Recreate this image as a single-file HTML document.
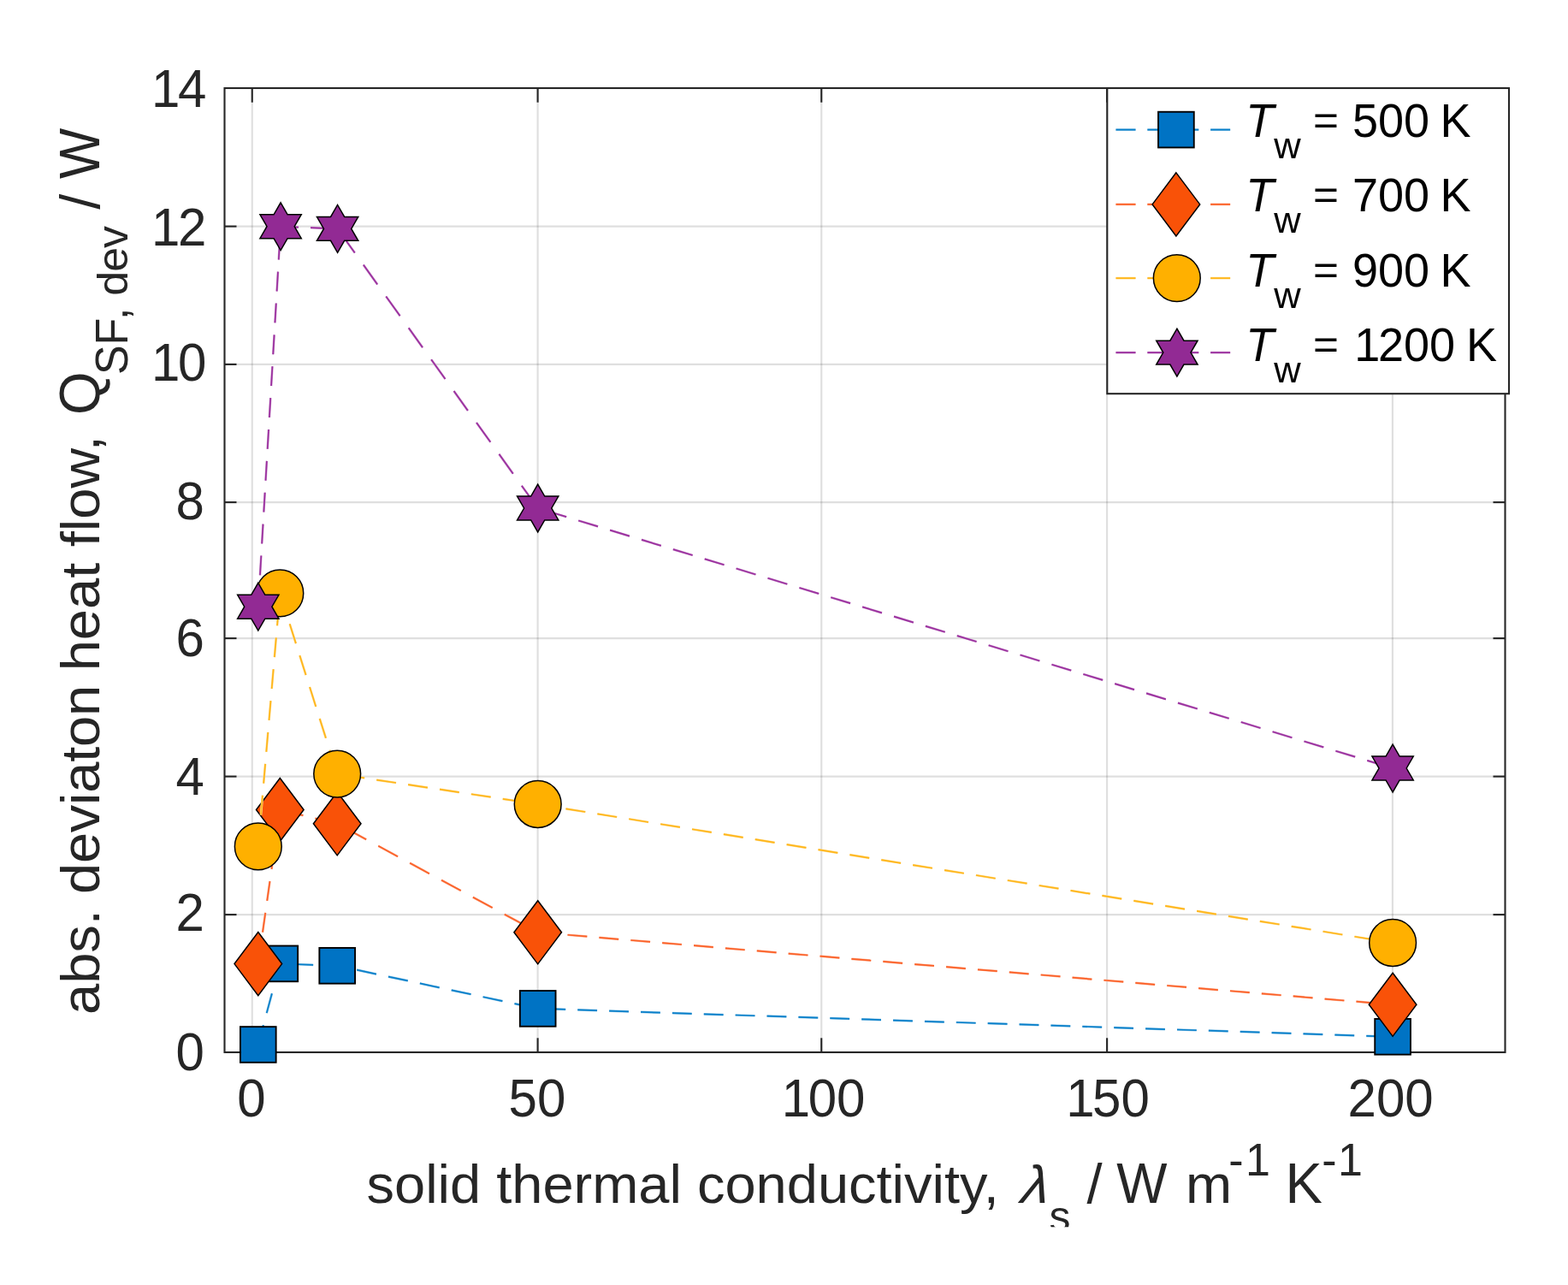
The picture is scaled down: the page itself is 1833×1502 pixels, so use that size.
<!DOCTYPE html>
<html lang="en">
<head>
<meta charset="utf-8">
<title>abs. deviation heat flow vs solid thermal conductivity</title>
<style>
html,body{margin:0;padding:0;background:#ffffff;}
body{width:1833px;height:1502px;overflow:hidden;}
svg{display:block;}
</style>
</head>
<body>
<svg width="1833" height="1502" viewBox="0 0 1833 1502" role="img" aria-label="abs. deviaton heat flow versus solid thermal conductivity for four wall temperatures">
<rect width="1833" height="1502" fill="#ffffff"/>
<g stroke="#262626" stroke-opacity="0.15" stroke-width="2.1" fill="none">
<line x1="294.75" y1="103.0" x2="294.75" y2="1230.0"/>
<line x1="628.6" y1="103.0" x2="628.6" y2="1230.0"/>
<line x1="960.25" y1="103.0" x2="960.25" y2="1230.0"/>
<line x1="1294.1" y1="103.0" x2="1294.1" y2="1230.0"/>
<line x1="1627.9" y1="103.0" x2="1627.9" y2="1230.0"/>
<line x1="262.5" y1="264.60" x2="1759.5" y2="264.60"/>
<line x1="262.5" y1="425.90" x2="1759.5" y2="425.90"/>
<line x1="262.5" y1="587.10" x2="1759.5" y2="587.10"/>
<line x1="262.5" y1="746.10" x2="1759.5" y2="746.10"/>
<line x1="262.5" y1="907.60" x2="1759.5" y2="907.60"/>
<line x1="262.5" y1="1069.10" x2="1759.5" y2="1069.10"/>
</g>
<g stroke="#262626" stroke-width="2.1" fill="none" stroke-linecap="butt">
<rect x="262.5" y="103.0" width="1497.0" height="1127.0"/>
<line x1="294.75" y1="1230.0" x2="294.75" y2="1213.3"/>
<line x1="294.75" y1="103.0" x2="294.75" y2="119.7"/>
<line x1="628.6" y1="1230.0" x2="628.6" y2="1213.3"/>
<line x1="628.6" y1="103.0" x2="628.6" y2="119.7"/>
<line x1="960.25" y1="1230.0" x2="960.25" y2="1213.3"/>
<line x1="960.25" y1="103.0" x2="960.25" y2="119.7"/>
<line x1="1294.1" y1="1230.0" x2="1294.1" y2="1213.3"/>
<line x1="1294.1" y1="103.0" x2="1294.1" y2="119.7"/>
<line x1="1627.9" y1="1230.0" x2="1627.9" y2="1213.3"/>
<line x1="1627.9" y1="103.0" x2="1627.9" y2="119.7"/>
<line x1="262.5" y1="264.60" x2="276.5" y2="264.60"/>
<line x1="1759.5" y1="264.60" x2="1745.5" y2="264.60"/>
<line x1="262.5" y1="425.90" x2="276.5" y2="425.90"/>
<line x1="1759.5" y1="425.90" x2="1745.5" y2="425.90"/>
<line x1="262.5" y1="587.10" x2="276.5" y2="587.10"/>
<line x1="1759.5" y1="587.10" x2="1745.5" y2="587.10"/>
<line x1="262.5" y1="746.10" x2="276.5" y2="746.10"/>
<line x1="1759.5" y1="746.10" x2="1745.5" y2="746.10"/>
<line x1="262.5" y1="907.60" x2="276.5" y2="907.60"/>
<line x1="1759.5" y1="907.60" x2="1745.5" y2="907.60"/>
<line x1="262.5" y1="1069.10" x2="276.5" y2="1069.10"/>
<line x1="1759.5" y1="1069.10" x2="1745.5" y2="1069.10"/>
</g>
<g font-family="'Liberation Sans', sans-serif" font-size="60" fill="#262626">
<text transform="translate(294.0,1304.6) scale(1,1.042)" text-anchor="middle">0</text>
<text transform="translate(627.9,1304.6) scale(1,1.042)" text-anchor="middle">50</text>
<text transform="translate(960.2,1304.6) scale(1,1.042)" text-anchor="middle" dx="2.4 -2.4">100</text>
<text transform="translate(1292.6,1304.6) scale(1,1.042)" text-anchor="middle" dx="2.4 -2.4">150</text>
<text transform="translate(1625.6,1304.6) scale(1,1.042)" text-anchor="middle">200</text>
<text transform="translate(238.9,124.6) scale(1,1.042)" text-anchor="end" dx="2.4 -2.4">14</text>
<text transform="translate(238.9,286.6) scale(1,1.042)" text-anchor="end" dx="2.4 -2.4">12</text>
<text transform="translate(238.9,445.0) scale(1,1.042)" text-anchor="end" dx="2.4 -2.4">10</text>
<text transform="translate(238.9,606.9) scale(1,1.042)" text-anchor="end">8</text>
<text transform="translate(238.9,767.2) scale(1,1.042)" text-anchor="end">6</text>
<text transform="translate(238.9,928.6) scale(1,1.042)" text-anchor="end">4</text>
<text transform="translate(238.9,1087.9) scale(1,1.042)" text-anchor="end">2</text>
<text transform="translate(238.9,1250.9) scale(1,1.042)" text-anchor="end">0</text>
</g>
<path d="M301.80,1221.00 L327.30,1126.40" fill="none" stroke-dasharray="23.61 14.58" stroke-dashoffset="0.00" stroke="#91c6e7" stroke-width="2.7"/>
<path d="M327.30,1126.40 L394.20,1128.80" fill="none" stroke-dasharray="22.81 14.09" stroke-dashoffset="20.85" stroke="#91c6e7" stroke-width="2.7"/>
<path d="M394.20,1128.80 L628.70,1178.90" fill="none" stroke-dasharray="23.31 14.40" stroke-dashoffset="14.30" stroke="#91c6e7" stroke-width="2.7"/>
<path d="M628.70,1178.90 L1628.10,1211.80" fill="none" stroke-dasharray="22.81 14.09" stroke-dashoffset="27.21" stroke="#91c6e7" stroke-width="2.7"/>
<path d="M301.80,1221.00 L327.30,1126.40" fill="none" stroke-dasharray="23.61 14.58" stroke-dashoffset="0.00" stroke="#0a80ca" stroke-width="1.7"/>
<path d="M327.30,1126.40 L394.20,1128.80" fill="none" stroke-dasharray="22.81 14.09" stroke-dashoffset="20.85" stroke="#0a80ca" stroke-width="1.7"/>
<path d="M394.20,1128.80 L628.70,1178.90" fill="none" stroke-dasharray="23.31 14.40" stroke-dashoffset="14.30" stroke="#0a80ca" stroke-width="1.7"/>
<path d="M628.70,1178.90 L1628.10,1211.80" fill="none" stroke-dasharray="22.81 14.09" stroke-dashoffset="27.21" stroke="#0a80ca" stroke-width="1.7"/>
<rect x="280.95" y="1200.15" width="41.70" height="41.70" fill="#0073C4" stroke="#000000" stroke-width="1.9"/>
<rect x="306.45" y="1105.55" width="41.70" height="41.70" fill="#0073C4" stroke="#000000" stroke-width="1.9"/>
<rect x="373.35" y="1107.95" width="41.70" height="41.70" fill="#0073C4" stroke="#000000" stroke-width="1.9"/>
<rect x="607.85" y="1158.05" width="41.70" height="41.70" fill="#0073C4" stroke="#000000" stroke-width="1.9"/>
<rect x="1607.25" y="1190.95" width="41.70" height="41.70" fill="#0073C4" stroke="#000000" stroke-width="1.9"/>
<path d="M301.80,1126.60 L327.30,946.50" fill="none" stroke-dasharray="23.03 14.22" stroke-dashoffset="0.00" stroke="#fdb89e" stroke-width="2.7"/>
<path d="M327.30,946.50 L394.20,962.80" fill="none" stroke-dasharray="23.47 14.49" stroke-dashoffset="33.53" stroke="#fdb89e" stroke-width="2.7"/>
<path d="M394.20,962.80 L628.70,1089.80" fill="none" stroke-dasharray="25.93 16.01" stroke-dashoffset="29.25" stroke="#fdb89e" stroke-width="2.7"/>
<path d="M628.70,1089.80 L1628.10,1174.30" fill="none" stroke-dasharray="22.88 14.13" stroke-dashoffset="2.07" stroke="#fdb89e" stroke-width="2.7"/>
<path d="M301.80,1126.60 L327.30,946.50" fill="none" stroke-dasharray="23.03 14.22" stroke-dashoffset="0.00" stroke="#fb6128" stroke-width="1.7"/>
<path d="M327.30,946.50 L394.20,962.80" fill="none" stroke-dasharray="23.47 14.49" stroke-dashoffset="33.53" stroke="#fb6128" stroke-width="1.7"/>
<path d="M394.20,962.80 L628.70,1089.80" fill="none" stroke-dasharray="25.93 16.01" stroke-dashoffset="29.25" stroke="#fb6128" stroke-width="1.7"/>
<path d="M628.70,1089.80 L1628.10,1174.30" fill="none" stroke-dasharray="22.88 14.13" stroke-dashoffset="2.07" stroke="#fb6128" stroke-width="1.7"/>
<polygon points="301.80,1089.53 329.60,1126.60 301.80,1163.67 274.00,1126.60" fill="#F95208" stroke="#000000" stroke-width="1.5" stroke-linejoin="miter"/>
<polygon points="327.30,909.43 355.10,946.50 327.30,983.57 299.50,946.50" fill="#F95208" stroke="#000000" stroke-width="1.5" stroke-linejoin="miter"/>
<polygon points="394.20,925.73 422.00,962.80 394.20,999.87 366.40,962.80" fill="#F95208" stroke="#000000" stroke-width="1.5" stroke-linejoin="miter"/>
<polygon points="628.70,1052.73 656.50,1089.80 628.70,1126.87 600.90,1089.80" fill="#F95208" stroke="#000000" stroke-width="1.5" stroke-linejoin="miter"/>
<polygon points="1628.10,1137.23 1655.90,1174.30 1628.10,1211.37 1600.30,1174.30" fill="#F95208" stroke="#000000" stroke-width="1.5" stroke-linejoin="miter"/>
<path d="M301.80,989.40 L327.30,693.40" fill="none" stroke-dasharray="22.88 14.13" stroke-dashoffset="0.00" stroke="#ffde98" stroke-width="2.7"/>
<path d="M327.30,693.40 L394.20,904.60" fill="none" stroke-dasharray="23.92 14.77" stroke-dashoffset="1.01" stroke="#ffde98" stroke-width="2.7"/>
<path d="M394.20,904.60 L628.70,940.00" fill="none" stroke-dasharray="23.06 14.24" stroke-dashoffset="28.07" stroke="#ffde98" stroke-width="2.7"/>
<path d="M628.70,940.00 L1628.10,1102.00" fill="none" stroke-dasharray="23.10 14.26" stroke-dashoffset="4.15" stroke="#ffde98" stroke-width="2.7"/>
<path d="M301.80,989.40 L327.30,693.40" fill="none" stroke-dasharray="22.88 14.13" stroke-dashoffset="0.00" stroke="#ffb61a" stroke-width="1.7"/>
<path d="M327.30,693.40 L394.20,904.60" fill="none" stroke-dasharray="23.92 14.77" stroke-dashoffset="1.01" stroke="#ffb61a" stroke-width="1.7"/>
<path d="M394.20,904.60 L628.70,940.00" fill="none" stroke-dasharray="23.06 14.24" stroke-dashoffset="28.07" stroke="#ffb61a" stroke-width="1.7"/>
<path d="M628.70,940.00 L1628.10,1102.00" fill="none" stroke-dasharray="23.10 14.26" stroke-dashoffset="4.15" stroke="#ffb61a" stroke-width="1.7"/>
<circle cx="301.80" cy="989.40" r="27.4" fill="#FFB000" stroke="#000000" stroke-width="1.5"/>
<circle cx="327.30" cy="693.40" r="27.4" fill="#FFB000" stroke="#000000" stroke-width="1.5"/>
<circle cx="394.20" cy="904.60" r="27.4" fill="#FFB000" stroke="#000000" stroke-width="1.5"/>
<circle cx="628.70" cy="940.00" r="27.4" fill="#FFB000" stroke="#000000" stroke-width="1.5"/>
<circle cx="1628.10" cy="1102.00" r="27.4" fill="#FFB000" stroke="#000000" stroke-width="1.5"/>
<path d="M301.80,709.20 L328.10,264.70" fill="none" stroke-dasharray="22.84 14.10" stroke-dashoffset="0.00" stroke="#d2a1d3" stroke-width="2.7"/>
<path d="M328.10,264.70 L394.60,267.40" fill="none" stroke-dasharray="22.82 14.09" stroke-dashoffset="1.94" stroke="#d2a1d3" stroke-width="2.7"/>
<path d="M394.60,267.40 L628.70,594.00" fill="none" stroke-dasharray="28.05 17.32" stroke-dashoffset="38.83" stroke="#d2a1d3" stroke-width="2.7"/>
<path d="M628.70,594.00 L1628.10,898.00" fill="none" stroke-dasharray="23.83 14.72" stroke-dashoffset="27.43" stroke="#d2a1d3" stroke-width="2.7"/>
<path d="M301.80,709.20 L328.10,264.70" fill="none" stroke-dasharray="22.84 14.10" stroke-dashoffset="0.00" stroke="#9a2f9e" stroke-width="1.7"/>
<path d="M328.10,264.70 L394.60,267.40" fill="none" stroke-dasharray="22.82 14.09" stroke-dashoffset="1.94" stroke="#9a2f9e" stroke-width="1.7"/>
<path d="M394.60,267.40 L628.70,594.00" fill="none" stroke-dasharray="28.05 17.32" stroke-dashoffset="38.83" stroke="#9a2f9e" stroke-width="1.7"/>
<path d="M628.70,594.00 L1628.10,898.00" fill="none" stroke-dasharray="23.83 14.72" stroke-dashoffset="27.43" stroke="#9a2f9e" stroke-width="1.7"/>
<polygon points="301.80,681.30 309.85,695.25 325.96,695.25 317.91,709.20 325.96,723.15 309.85,723.15 301.80,737.10 293.75,723.15 277.64,723.15 285.69,709.20 277.64,695.25 293.75,695.25" fill="#922A94" stroke="#000000" stroke-width="1.5" stroke-linejoin="miter" stroke-miterlimit="10"/>
<polygon points="328.10,236.80 336.15,250.75 352.26,250.75 344.21,264.70 352.26,278.65 336.15,278.65 328.10,292.60 320.05,278.65 303.94,278.65 311.99,264.70 303.94,250.75 320.05,250.75" fill="#922A94" stroke="#000000" stroke-width="1.5" stroke-linejoin="miter" stroke-miterlimit="10"/>
<polygon points="394.60,239.50 402.65,253.45 418.76,253.45 410.71,267.40 418.76,281.35 402.65,281.35 394.60,295.30 386.55,281.35 370.44,281.35 378.49,267.40 370.44,253.45 386.55,253.45" fill="#922A94" stroke="#000000" stroke-width="1.5" stroke-linejoin="miter" stroke-miterlimit="10"/>
<polygon points="628.70,566.10 636.75,580.05 652.86,580.05 644.81,594.00 652.86,607.95 636.75,607.95 628.70,621.90 620.65,607.95 604.54,607.95 612.59,594.00 604.54,580.05 620.65,580.05" fill="#922A94" stroke="#000000" stroke-width="1.5" stroke-linejoin="miter" stroke-miterlimit="10"/>
<polygon points="1628.10,870.10 1636.15,884.05 1652.26,884.05 1644.21,898.00 1652.26,911.95 1636.15,911.95 1628.10,925.90 1620.05,911.95 1603.94,911.95 1611.99,898.00 1603.94,884.05 1620.05,884.05" fill="#922A94" stroke="#000000" stroke-width="1.5" stroke-linejoin="miter" stroke-miterlimit="10"/>
<rect x="1294.3" y="103.0" width="469.70000000000005" height="357.2" fill="#ffffff" stroke="#262626" stroke-width="2.1"/>
<g font-family="'Liberation Sans', sans-serif" fill="#000000">
<path d="M1304.5,151.6 L1445.3,151.6" fill="none" stroke="#91c6e7" stroke-width="2.7" stroke-dasharray="23 13.88"/>
<path d="M1304.5,151.6 L1445.3,151.6" fill="none" stroke="#0a80ca" stroke-width="1.7" stroke-dasharray="23 13.88"/>
<rect x="1354.05" y="130.75" width="41.70" height="41.70" fill="#0073C4" stroke="#000000" stroke-width="1.9"/>
<g aria-label="T_w = 500 K">
<text transform="translate(1456.20,160.00) scale(1.0,1.02)" font-size="54" font-style="italic">T</text>
<text transform="translate(1489.20,184.90) scale(1.0,0.985)" font-size="43.5">w</text>
<text transform="translate(1535.00,156.90) scale(0.95,0.89)" font-size="54">=</text>
<text transform="translate(1581.00,160.00) scale(1.0,1.02)" font-size="54">500</text>
<text transform="translate(1683.40,160.00) scale(1.0,1.02)" font-size="54">K</text>
</g>
<path d="M1304.5,238.9 L1445.3,238.9" fill="none" stroke="#fdb89e" stroke-width="2.7" stroke-dasharray="23 13.88"/>
<path d="M1304.5,238.9 L1445.3,238.9" fill="none" stroke="#fb6128" stroke-width="1.7" stroke-dasharray="23 13.88"/>
<polygon points="1374.90,201.83 1402.70,238.90 1374.90,275.97 1347.10,238.90" fill="#F95208" stroke="#000000" stroke-width="1.5" stroke-linejoin="miter"/>
<g aria-label="T_w = 700 K">
<text transform="translate(1456.20,247.20) scale(1.0,1.02)" font-size="54" font-style="italic">T</text>
<text transform="translate(1489.20,272.10) scale(1.0,0.985)" font-size="43.5">w</text>
<text transform="translate(1535.00,244.10) scale(0.95,0.89)" font-size="54">=</text>
<text transform="translate(1581.00,247.20) scale(1.0,1.02)" font-size="54">700</text>
<text transform="translate(1683.40,247.20) scale(1.0,1.02)" font-size="54">K</text>
</g>
<path d="M1304.5,325.1 L1445.3,325.1" fill="none" stroke="#ffde98" stroke-width="2.7" stroke-dasharray="23 13.88"/>
<path d="M1304.5,325.1 L1445.3,325.1" fill="none" stroke="#ffb61a" stroke-width="1.7" stroke-dasharray="23 13.88"/>
<circle cx="1375.80" cy="325.10" r="27.4" fill="#FFB000" stroke="#000000" stroke-width="1.5"/>
<g aria-label="T_w = 900 K">
<text transform="translate(1456.20,334.60) scale(1.0,1.02)" font-size="54" font-style="italic">T</text>
<text transform="translate(1489.20,359.50) scale(1.0,0.985)" font-size="43.5">w</text>
<text transform="translate(1535.00,331.50) scale(0.95,0.89)" font-size="54">=</text>
<text transform="translate(1581.00,334.60) scale(1.0,1.02)" font-size="54">900</text>
<text transform="translate(1683.40,334.60) scale(1.0,1.02)" font-size="54">K</text>
</g>
<path d="M1304.5,412.1 L1445.3,412.1" fill="none" stroke="#d2a1d3" stroke-width="2.7" stroke-dasharray="23 13.88"/>
<path d="M1304.5,412.1 L1445.3,412.1" fill="none" stroke="#9a2f9e" stroke-width="1.7" stroke-dasharray="23 13.88"/>
<polygon points="1375.90,384.20 1383.95,398.15 1400.06,398.15 1392.01,412.10 1400.06,426.05 1383.95,426.05 1375.90,440.00 1367.85,426.05 1351.74,426.05 1359.79,412.10 1351.74,398.15 1367.85,398.15" fill="#922A94" stroke="#000000" stroke-width="1.5" stroke-linejoin="miter" stroke-miterlimit="10"/>
<g aria-label="T_w = 1200 K">
<text transform="translate(1456.20,421.80) scale(1.0,1.02)" font-size="54" font-style="italic">T</text>
<text transform="translate(1489.20,446.70) scale(1.0,0.985)" font-size="43.5">w</text>
<text transform="translate(1535.00,418.70) scale(0.95,0.89)" font-size="54">=</text>
<text transform="translate(1581.00,421.80) scale(1.0,1.02)" font-size="54" dx="2.2 -2.2">1200</text>
<text transform="translate(1714.00,421.80) scale(1.0,1.02)" font-size="54">K</text>
</g>
</g>
<clipPath id="cx"><rect x="0" y="0" width="1833" height="1434.3"/></clipPath>
<g font-family="'Liberation Sans', sans-serif" fill="#262626" clip-path="url(#cx)" aria-label="solid thermal conductivity, lambda_s / W m^-1 K^-1">
<text transform="translate(428.50,1406.40) scale(1.0,0.965)" font-size="65">solid thermal conductivity,</text>
<text transform="translate(1192.70,1406.40) skewX(-7) scale(1.0,0.955)" font-size="65" font-style="italic">λ</text>
<text transform="translate(1226.60,1439.00) scale(0.96,0.965)" font-size="52">s</text>
<text transform="translate(1270.60,1406.40)" font-size="65">/</text>
<text transform="translate(1305.20,1406.40) scale(0.965,1.025)" font-size="65">W</text>
<text transform="translate(1386.00,1406.40) scale(1.0,0.965)" font-size="65">m</text>
<text transform="translate(1436.30,1373.60) scale(1.0,1.042)" font-size="52" dx="0 2.4">-1</text>
<text transform="translate(1502.60,1406.40) scale(1.0,1.025)" font-size="65">K</text>
<text transform="translate(1545.20,1373.60) scale(1.0,1.042)" font-size="52" dx="0 1.4">-1</text>
</g>
<g transform="translate(116.0,1184) rotate(-90)" font-family="'Liberation Sans', sans-serif" fill="#262626" aria-label="abs. deviaton heat flow, Q_SF,dev / W">
<text transform="translate(-2.00,0.00) scale(1.0,0.965)" font-size="65">abs.</text>
<text transform="translate(139.00,0.00) scale(1.0,0.965)" font-size="65" textLength="244.1" lengthAdjust="spacing">deviaton</text>
<text transform="translate(399.70,0.00) scale(1.0,0.965)" font-size="65">heat</text>
<text transform="translate(544.70,0.00) scale(1.0,0.965)" font-size="65">flow,</text>
<text transform="translate(699.00,0.00) scale(1.0,1.025)" font-size="65">Q</text>
<text transform="translate(745.90,32.60) scale(1.0,1.025)" font-size="52" dx="0 0 3.3">SF,</text>
<text transform="translate(838.30,32.60) scale(1.0,0.965)" font-size="52" textLength="81.8" lengthAdjust="spacing">dev</text>
<text transform="translate(939.20,0.00)" font-size="65">/</text>
<text transform="translate(974.90,0.00) scale(0.965,1.025)" font-size="65">W</text>
</g>
</svg>
</body>
</html>
